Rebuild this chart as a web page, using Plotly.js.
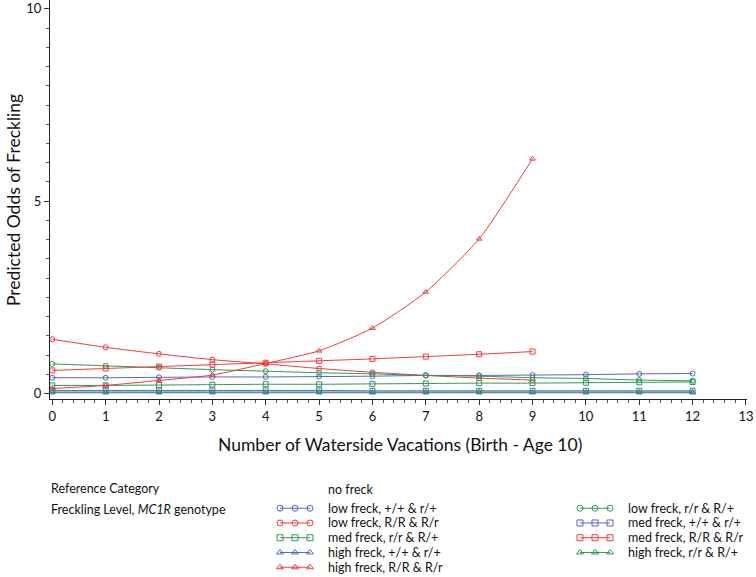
<!DOCTYPE html>
<html>
<head>
<meta charset="utf-8">
<script src="https://cdn.plot.ly/plotly-3.0.1.min.js"></script>
<style>html,body{margin:0;padding:0;background:#fff;}#chart{width:756px;height:577px;}</style>
</head>
<body>
<div id="chart"></div>
<script>
// ---------- data ----------
const xFull = [0,1,2,3,4,5,6,7,8,9,10,11,12];
const xNine = [0,1,2,3,4,5,6,7,8,9];

const lowPlus   = [0.41,0.41,0.42,0.43,0.43,0.44,0.45,0.47,0.47,0.48,0.49,0.51,0.52];
const lowRR     = [1.41,1.20,1.03,0.88,0.77,0.65,0.55,0.47,0.40,0.35];
const medRr     = [0.21,0.21,0.22,0.23,0.24,0.24,0.25,0.26,0.27,0.27,0.28,0.29,0.30];
const highPlus  = [0.02,0.02,0.02,0.02,0.02,0.02,0.02,0.02,0.02,0.02,0.02,0.02,0.02];
const highRR    = [0.13,0.21,0.34,0.48,0.78,1.11,1.70,2.64,4.02,6.10];
const lowRr     = [0.77,0.72,0.67,0.62,0.58,0.54,0.51,0.47,0.45,0.41,0.39,0.35,0.33];
const medPlus   = [0.08,0.08,0.08,0.08,0.08,0.08,0.07,0.07,0.07,0.07,0.07,0.07,0.07];
const medRR     = [0.60,0.65,0.70,0.75,0.80,0.85,0.90,0.96,1.02,1.09];
const highRr    = [0.04,0.04,0.04,0.04,0.04,0.04,0.04,0.04,0.04,0.04,0.04,0.04,0.04];

const seriesNames = [
  "low freck, +/+ & r/+", "low freck, R/R & R/r", "med freck, r/r & R/+",
  "high freck, +/+ & r/+", "high freck, R/R & R/r",
  "low freck, r/r & R/+", "med freck, +/+ & r/+", "med freck, R/R & R/r",
  "high freck, r/r & R/+"
];
const seriesX = [xFull, xNine, xFull, xFull, xNine, xFull, xFull, xNine, xFull];
const seriesY = [lowPlus, lowRR, medRr, highPlus, highRR, lowRr, medPlus, medRR, highRr];

const xTicks = [0,1,2,3,4,5,6,7,8,9,10,11,12,13];
const yTicks = [0,5,10];
const xTitle = "Number of Waterside Vacations (Birth - Age 10)";
const yTitle = "Predicted Odds of Freckling";
const refLabel = "Reference Category";
const refValue = "no freck";
const groupLabel = "Freckling Level, <i>MC1R</i> genotype";

// ---------- styles ----------
const BLUE = "#5366c8", RED = "#f23a3a", GREEN = "#2b9a55";
const seriesColor = [BLUE, RED, GREEN, BLUE, RED, GREEN, BLUE, RED, GREEN];
const seriesSymbol = ["circle-open","circle-open","square-open","triangle-up-open","triangle-up-open",
                      "circle-open","square-open","square-open","triangle-up-open"];

const W = 756, H = 577, L = 50, R = 9;
const plotBottom = 399;
const FONT = "Lato, 'Open Sans', sans-serif";
const px = x => (x - L) / (W - L - R);
const py = y => (H - y) / H;

const traces = [];
seriesNames.forEach((n, i) => {
  traces.push({
    type: "scatter", mode: "lines+markers", name: n,
    x: seriesX[i], y: seriesY[i], xaxis: "x", yaxis: "y",
    line: {color: seriesColor[i], width: 1, shape: "spline", smoothing: 0.6},
    marker: {symbol: seriesSymbol[i], size: 5, color: seriesColor[i], line: {width: 1, color: seriesColor[i]}},
    showlegend: false, hoverinfo: "skip"
  });
});

// ---------- custom legend ----------
const legRowY0 = 508, legRowDy = 14.8;
const LEGFS = 12.5;
const legCols = [{sx: 280, tx: 327, items: [0,1,2,3,4]}, {sx: 580, tx: 627, items: [5,6,7,8]}];
const annotations = [];
legCols.forEach(col => {
  col.items.forEach((idx, r) => {
    const yy = legRowY0 + r * legRowDy;
    traces.push({
      type: "scatter", mode: "lines+markers", xaxis: "x2", yaxis: "y2",
      x: [col.sx, col.sx + 15, col.sx + 30], y: [yy, yy, yy],
      line: {color: seriesColor[idx], width: 1},
      marker: {symbol: seriesSymbol[idx], size: 6, color: seriesColor[idx], line: {width: 1, color: seriesColor[idx]}},
      showlegend: false, hoverinfo: "skip"
    });
    annotations.push({xref: "paper", yref: "paper", x: px(col.tx), y: py(yy), xanchor: "left", yanchor: "middle",
      text: seriesNames[idx], showarrow: false, borderpad: 0, font: {family: FONT, size: LEGFS, color: "#111"}});
  });
});
annotations.push({xref: "paper", yref: "paper", x: px(50), y: py(488), xanchor: "left", yanchor: "middle",
  text: refLabel, showarrow: false, borderpad: 0, font: {family: FONT, size: LEGFS, color: "#111"}});
annotations.push({xref: "paper", yref: "paper", x: px(327), y: py(489), xanchor: "left", yanchor: "middle",
  text: refValue, showarrow: false, borderpad: 0, font: {family: FONT, size: LEGFS, color: "#111"}});
annotations.push({xref: "paper", yref: "paper", x: px(50), y: py(509), xanchor: "left", yanchor: "middle",
  text: groupLabel, showarrow: false, borderpad: 0, font: {family: FONT, size: LEGFS, color: "#111"}});
// axis titles
annotations.push({xref: "paper", yref: "paper", x: px(400), y: py(445), xanchor: "center", yanchor: "middle",
  text: xTitle, showarrow: false, font: {family: FONT, size: 17.5, color: "#111"}});
annotations.push({xref: "paper", yref: "paper", x: px(14), y: py(200), xanchor: "center", yanchor: "middle",
  textangle: -90, text: yTitle, showarrow: false, font: {family: FONT, size: 17.5, color: "#111"}});

const layout = {
  width: W, height: H,
  margin: {l: L, r: R, t: 0, b: 0, pad: 0},
  paper_bgcolor: "#fff", plot_bgcolor: "#fff",
  showlegend: false,
  font: {family: FONT, color: "#111"},
  xaxis: {
    domain: [0, 1], anchor: "y", range: [-0.043, 13.02],
    tickvals: xTicks, ticktext: xTicks.map(String),
    ticks: "outside", ticklen: 5, tickwidth: 1, tickcolor: "#333",
    minor: {dtick: 0.2, ticks: "outside", ticklen: 3, tickwidth: 1, tickcolor: "#555", showgrid: false},
    showline: true, linecolor: "#222", linewidth: 1, showgrid: false, zeroline: false,
    tickfont: {family: FONT, size: 13, color: "#111"}
  },
  yaxis: {
    domain: [py(plotBottom), 1], anchor: "x", range: [-0.143, 10.23],
    tickvals: yTicks, ticktext: yTicks.map(String),
    ticks: "outside", ticklen: 5, tickwidth: 1, tickcolor: "#333",
    minor: {dtick: 0.5, ticks: "outside", ticklen: 3, tickwidth: 1, tickcolor: "#555", showgrid: false},
    showline: true, linecolor: "#222", linewidth: 1, showgrid: false, zeroline: false,
    tickfont: {family: FONT, size: 13, color: "#111"}
  },
  xaxis2: {domain: [0, 1], anchor: "y2", range: [L, W - R], visible: false, fixedrange: true},
  yaxis2: {domain: [0, py(plotBottom) - 0.001], anchor: "x2", range: [H, plotBottom], visible: false, fixedrange: true},
  annotations: annotations
};

Plotly.newPlot("chart", traces, layout, {displayModeBar: false, staticPlot: true});
</script>
</body>
</html>
